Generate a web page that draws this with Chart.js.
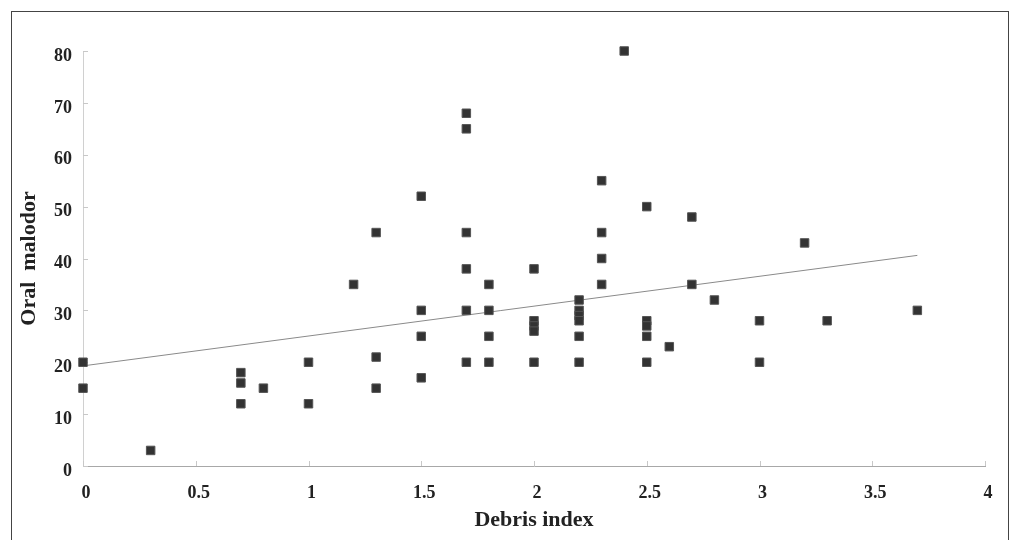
<!DOCTYPE html>
<html>
<head>
<meta charset="utf-8">
<script src="https://cdn.jsdelivr.net/npm/chart.js@4/dist/chart.umd.min.js"></script>
<style>
  body { margin: 0; background: #fff; overflow: hidden; }
  #wrap { position: relative; width: 1011px; height: 540px; }
  #frame { position: absolute; left: 11px; top: 11px; width: 996px; height: 600px; border: 1px solid #444; pointer-events: none; }
  canvas { position: absolute; left: 0; top: 0; }
</style>
</head>
<body>
<div id="wrap">
  <canvas id="chart" width="1011" height="540"></canvas>
  <div id="frame"></div>
</div>
<script>
const debrisIndex = [0, 0, 0.3, 0.7, 0.7, 0.7, 0.8, 1.0, 1.0, 1.2, 1.3, 1.3, 1.3,
  1.5, 1.5, 1.5, 1.5, 1.7, 1.7, 1.7, 1.7, 1.7, 1.7, 1.8, 1.8, 1.8, 1.8,
  2.0, 2.0, 2.0, 2.0, 2.0, 2.2, 2.2, 2.2, 2.2, 2.2, 2.2, 2.3, 2.3, 2.3, 2.3,
  2.4, 2.5, 2.5, 2.5, 2.5, 2.5, 2.6, 2.7, 2.7, 2.8, 3.0, 3.0, 3.2, 3.3, 3.7];
const oralMalodor = [20, 15, 3, 18, 16, 12, 15, 20, 12, 35, 45, 21, 15,
  52, 30, 25, 17, 68, 65, 45, 38, 30, 20, 35, 30, 25, 20,
  38, 28, 27, 26, 20, 32, 30, 29, 28, 25, 20, 55, 45, 40, 35,
  80, 50, 28, 27, 25, 20, 23, 48, 35, 32, 28, 20, 43, 28, 30];

// regression line end points
const trendX = [0, 3.7];
const trendY = [19.3, 40.6];

const xTicks = [0, 0.5, 1, 1.5, 2, 2.5, 3, 3.5, 4];
const xTickLabels = ['0', '0.5', '1', '1.5', '2', '2.5', '3', '3.5', '4'];
const yTicks = [0, 10, 20, 30, 40, 50, 60, 70, 80];
const yTickLabels = ['0', '10', '20', '30', '40', '50', '60', '70', '80'];

const serif = '"Liberation Serif", "Times New Roman", serif';

// small tick marks pointing into the plot
const innerTicks = {
  id: 'innerTicks',
  beforeDatasetsDraw(chart) {
    const ctx = chart.ctx;
    const x = chart.scales.x, y = chart.scales.y;
    ctx.save();
    ctx.strokeStyle = '#c8c8c8';
    ctx.lineWidth = 1;
    ctx.beginPath();
    xTicks.forEach(v => {
      const px = Math.round(x.getPixelForValue(v)) + 0.5;
      ctx.moveTo(px, y.bottom);
      ctx.lineTo(px, y.bottom - 5);
    });
    yTicks.forEach(v => {
      const py = Math.round(y.getPixelForValue(v)) + 0.5;
      ctx.moveTo(x.left, py);
      ctx.lineTo(x.left + 5, py);
    });
    ctx.stroke();
    ctx.restore();
  }
};

new Chart(document.getElementById('chart').getContext('2d'), {
  type: 'scatter',
  data: {
    datasets: [
      {
        label: 'Oral malodor',
        data: debrisIndex.map((d, i) => ({ x: d, y: oralMalodor[i] })),
        pointStyle: 'rect',
        pointRadius: 6,
        backgroundColor: '#333333',
        borderColor: '#555555',
        borderWidth: 1,
        clip: false
      },
      {
        label: 'Trend',
        data: trendX.map((d, i) => ({ x: d, y: trendY[i] })),
        showLine: true,
        pointRadius: 0,
        borderColor: '#8a8a8a',
        borderWidth: 1,
        clip: false
      }
    ]
  },
  options: {
    responsive: false,
    animation: false,
    layout: { padding: { left: 0, right: 26, top: 51, bottom: 0 } },
    plugins: { legend: { display: false }, tooltip: { enabled: false } },
    scales: {
      x: {
        type: 'linear',
        min: 0,
        max: 4,
        afterBuildTicks: s => { s.ticks = xTicks.map(v => ({ value: v })); },
        afterFit: s => { s.height = 74; },
        grid: { display: false, drawTicks: false },
        border: { display: true, color: '#a8a8a8', width: 1 },
        ticks: {
          padding: 17,
          labelOffset: 3,
          color: '#222',
          font: { family: serif, size: 18, weight: 'bold' },
          callback: (v, i) => xTickLabels[i]
        },
        title: {
          display: true,
          text: 'Debris index',
          color: '#222',
          font: { family: serif, size: 22, weight: 'bold' },
          padding: { top: 0, bottom: 6 }
        }
      },
      y: {
        type: 'linear',
        min: 0,
        max: 80,
        afterBuildTicks: s => { s.ticks = yTicks.map(v => ({ value: v })); },
        afterFit: s => { s.width = 83; },
        grid: { display: false, drawTicks: false },
        border: { display: true, color: '#d0d0d0', width: 1 },
        ticks: {
          padding: 11,
          labelOffset: 5,
          color: '#222',
          font: { family: serif, size: 18, weight: 'bold' },
          callback: (v, i) => yTickLabels[i]
        },
        title: {
          display: true,
          text: 'Oral  malodor',
          color: '#222',
          font: { family: serif, size: 22, weight: 'bold' },
          padding: { top: 16, bottom: 0 }
        }
      }
    }
  },
  plugins: [innerTicks]
});
</script>
</body>
</html>
